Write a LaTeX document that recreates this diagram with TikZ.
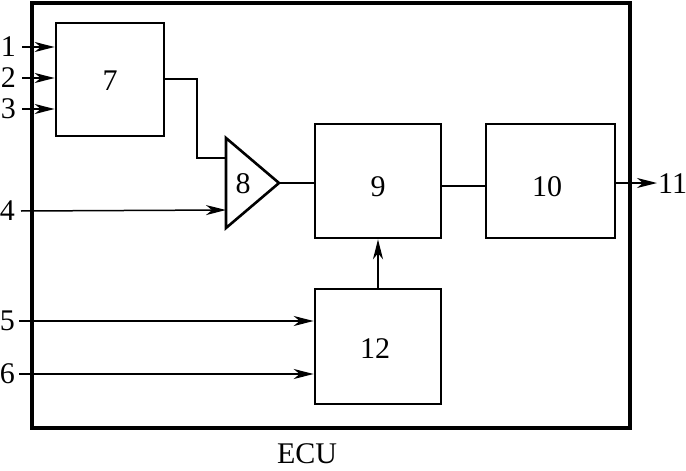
\documentclass[tikz,border=0pt]{standalone}
\usepackage{fontspec}
\setmainfont{Liberation Serif}
\usetikzlibrary{arrows.meta}
\begin{document}
\begin{tikzpicture}[x=1pt,y=-1pt,
  blk/.style={draw,line width=2.6pt,inner sep=0pt},
  wire/.style={line width=1.5pt},
  arr/.style={wire,-{Stealth[length=20pt,width=10pt,inset=6pt]}},
  lbl/.style={inner sep=0pt,font=\fontsize{30}{32}\selectfont}]
\useasboundingbox (0,0) rectangle (686,471);
\draw[line width=3.2pt] (32,3) rectangle (630,428);
% boxes
\node[blk,minimum width=108pt,minimum height=113pt] (b7) at (110,79.5) {};
\node[lbl] at (110,81) {7};
\node[blk,minimum width=126pt,minimum height=114pt] (b9) at (378,181) {};
\node[lbl] at (378,187) {9};
\node[blk,minimum width=129pt,minimum height=114pt] (b10) at (550.5,181) {};
\node[lbl] at (547,187) {10};
\node[blk,minimum width=126pt,minimum height=115pt] (b12) at (378,346.5) {};
\node[lbl] at (375,349) {12};
% amplifier
\coordinate (t1) at (226,138);
\coordinate (t2) at (226,228);
\coordinate (t3) at (279,183);
\draw[line width=2.6pt,line join=miter] (t1) -- (t3) -- (t2) -- cycle;
\node[lbl] (l8) at (243,184) {8};
% inputs
\node[lbl,anchor=east] (i1) at (16,47) {1};
\node[lbl,anchor=east] (i2) at (16,78) {2};
\node[lbl,anchor=east] (i3) at (16,109) {3};
\node[lbl,anchor=east] (i4) at (15,211) {4};
\node[lbl,anchor=east] (i5) at (15,321) {5};
\node[lbl,anchor=east] (i6) at (15,374) {6};
\draw[arr] (i1.east)+(6,0) -- (b7.west |- i1.east);
\draw[arr] (i2.east)+(6,0) -- (b7.west |- i2.east);
\draw[arr] (i3.east)+(6,0) -- (b7.west |- i3.east);
\draw[arr] (i4.east)+(6,0) -- (226,210);
\draw[arr] (i5.east)+(4,0) -- (b12.west |- i5.east);
\draw[arr] (i6.east)+(4,0) -- (b12.west |- i6.east);
% connections
\draw[wire] (b7.east |- 0,79) -- (197,79) -- (197,158) -- (226,158);
\draw[wire] (t3) -- (b9.west |- t3);
\draw[wire] (b9.east |- 0,186) -- (b10.west |- 0,186);
\draw[arr] (b12.north) -- (b9.south);
\node[lbl,anchor=west] (o11) at (658,184) {11};
\draw[arr] (b10.east |- 0,183) -- (657,183);
\node[lbl] (ecu) at (307,454) {ECU};
\end{tikzpicture}
\end{document}
